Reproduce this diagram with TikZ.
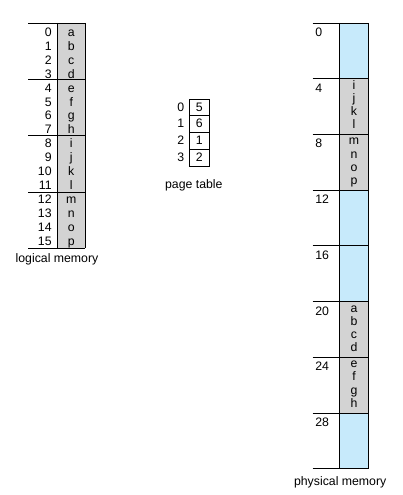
\documentclass[tikz,border=0pt]{standalone}
\usepackage{fontspec}
\setmainfont{Liberation Sans}
\definecolor{pagegrey}{HTML}{D3D3D3}
\definecolor{freeblue}{HTML}{C7EAFB}
\begin{document}
\begin{tikzpicture}[x=1pt,y=-1pt,line width=0.8pt,
  lbl/.style={inner sep=0pt,font=\fontsize{12.3}{14}\selectfont},
  numr/.style={lbl,anchor=base east},
  numl/.style={lbl,anchor=base west},
  cell/.style={lbl,anchor=base}]
\useasboundingbox (0,0) rectangle (402,495);
% ---------- logical memory ----------
\fill[pagegrey] (57.7,23) rectangle (85,248.2);
\draw (57.7,23) -- (57.7,248.2);
\draw (85,23) -- (85,248.2);
\foreach \k in {0,...,4} \draw (28,{23+56.3*\k}) -- (85,{23+56.3*\k});
\foreach \n [count=\i from 0] in {a,b,c,d,e,f,g,h,i,j,k,l,m,n,o,p} {
  \node[numr] (ln\i) at (52,{36.5+13.9*\i}) {\i};
  \node[cell] (ll\i) at (71.3,{36.5+13.9*\i}) {\n};
}
\node[cell] (loglabel) at (57,262.7) {logical memory};
% ---------- page table ----------
\draw (189.3,99) rectangle (209.3,166);
\foreach \k in {1,2,3} \draw (189.3,{99+16.75*\k}) -- (209.3,{99+16.75*\k});
\foreach \v [count=\i from 0] in {5,6,1,2} {
  \node[numr] (pi\i) at (184.5,{111+16.75*\i}) {\i};
  \node[cell] (pv\i) at (199.3,{111+16.75*\i}) {\v};
}
\node[cell] (ptlabel) at (193.8,188) {page table};
% ---------- physical memory ----------
\foreach \k/\c in {0/freeblue,1/pagegrey,2/pagegrey,3/freeblue,4/freeblue,5/pagegrey,6/pagegrey,7/freeblue}
  \fill[\c] (339.3,{23+55.7*\k}) rectangle (368.7,{23+55.7*(\k+1)});
\draw (339.3,23) -- (339.3,468.6);
\draw (368.7,23) -- (368.7,468.6);
\foreach \k in {0,...,8} \draw (312.7,{23+55.7*\k}) -- (368.7,{23+55.7*\k});
\foreach \k in {0,...,7} {
  \pgfmathtruncatemacro{\addr}{4*\k}
  \node[numl] (fa\k) at (315,{23+55.7*\k+13.5}) {\addr};
}
\foreach \k/\letters in {1/{i,j,k,l},2/{m,n,o,p},5/{a,b,c,d},6/{e,f,g,h}} {
  \foreach \n [count=\j from 0] in \letters {
    \node[cell] (pf\k\n) at (354,{23+55.7*\k+10.5+13.2*\j}) {\n};
  }
}
\node[cell] (pmlabel) at (340.2,485.7) {physical memory};
\end{tikzpicture}
\end{document}
